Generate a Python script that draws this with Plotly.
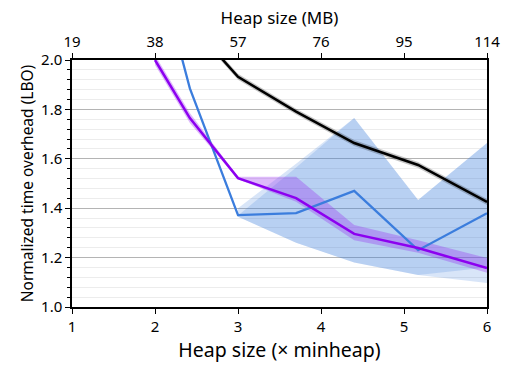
import plotly.graph_objects as go

# ---- data ----
heap_x = [2, 2.42, 3, 3.7, 4.4, 5.17, 6]

purple_mid = [2.0, 1.765, 1.522, 1.441, 1.296, 1.239, 1.158]
purple_hi = [2.02, 1.785, 1.527, 1.527, 1.332, 1.27, 1.198]
purple_lo = [1.98, 1.745, 1.517, 1.426, 1.27, 1.22, 1.139]

blue_mid = [2.42, 1.885, 1.372, 1.38, 1.47, 1.23, 1.38]

black_mid = [2.5, 2.15, 1.932, 1.791, 1.664, 1.575, 1.425]
black_hi = [2.51, 2.162, 1.944, 1.803, 1.676, 1.587, 1.437]
black_lo = [2.49, 2.138, 1.92, 1.779, 1.652, 1.563, 1.413]

band_x = [3, 3.7, 4.4, 5.17, 6]
blue_outer_hi = [1.40, 1.58, 1.765, 1.433, 1.664]
blue_outer_lo = [1.365, 1.26, 1.18, 1.13, 1.097]
blue_inner_hi = [1.37, 1.565, 1.765, 1.433, 1.664]
blue_inner_lo = [1.365, 1.26, 1.18, 1.13, 1.16]

x_ticks = [1, 2, 3, 4, 5, 6]
mb_ticks = [19, 38, 57, 76, 95, 114]
y_ticks = [1.0, 1.2, 1.4, 1.6, 1.8, 2.0]

FONT = "Noto Sans"
BLUE = "rgb(59,125,221)"
PURPLE = "rgb(140,0,240)"


def band(x, lo, hi, color):
    return go.Scatter(
        x=list(x) + list(x)[::-1],
        y=list(hi) + list(lo)[::-1],
        fill="toself", fillcolor=color, mode="lines",
        line=dict(width=0), hoverinfo="skip", showlegend=False,
    )


fig = go.Figure()
fig.add_trace(band(band_x, blue_outer_lo, blue_outer_hi, "rgba(59,125,221,0.2)"))
fig.add_trace(band(band_x, blue_inner_lo, blue_inner_hi, "rgba(59,125,221,0.2)"))
fig.add_trace(band(heap_x, purple_lo, purple_hi, "rgba(150,40,240,0.32)"))
fig.add_trace(band(heap_x, black_lo, black_hi, "rgba(0,0,0,0.22)"))

fig.add_trace(go.Scatter(x=heap_x, y=blue_mid, mode="lines",
                         line=dict(color=BLUE, width=2.3), showlegend=False))
fig.add_trace(go.Scatter(x=heap_x, y=black_mid, mode="lines",
                         line=dict(color="black", width=2.5), showlegend=False))
fig.add_trace(go.Scatter(x=heap_x, y=purple_mid, mode="lines",
                         line=dict(color=PURPLE, width=2.5), showlegend=False))

# invisible trace for the top axis
fig.add_trace(go.Scatter(x=mb_ticks, y=[1.0] * len(mb_ticks), xaxis="x2",
                         mode="markers", marker=dict(opacity=0),
                         hoverinfo="skip", showlegend=False))

fig.update_layout(
    width=505, height=365,
    margin=dict(l=72, r=18, t=60, b=58, autoexpand=False),
    paper_bgcolor="white", plot_bgcolor="white",
    font=dict(family=FONT, size=15, color="black"),
    xaxis=dict(
        range=[1, 6], tickvals=x_ticks, showgrid=False, zeroline=False,
        automargin=False,
        showline=True, linecolor="black", linewidth=1.5,
        ticks="outside", ticklen=5, tickcolor="black",
        title=dict(text="Heap size (× minheap)", font=dict(size=19.5), standoff=6),
    ),
    xaxis2=dict(
        range=[19, 114], tickvals=mb_ticks, overlaying="x", side="top",
        showgrid=False, zeroline=False, automargin=False,
        showline=True, linecolor="black", linewidth=2,
        ticks="outside", ticklen=5, tickcolor="black",
        title=dict(text="Heap size (MB)", font=dict(size=17), standoff=2),
    ),
    yaxis=dict(
        range=[1.0, 2.0], tickvals=y_ticks, tickformat=".1f",
        automargin=False,
        showgrid=True, gridcolor="#b4b4b4", gridwidth=1, zeroline=False,
        showline=True, linecolor="black", linewidth=1.5, mirror=True,
        ticks="outside", ticklen=5, tickcolor="black",
        minor=dict(dtick=0.04, showgrid=True, gridcolor="#ececec",
                   ticks="outside", ticklen=3, tickcolor="black"),
        title=dict(text="Normalized time overhead (LBO)", font=dict(size=15.5), standoff=4),
    ),
)

fig.write_html("out.html",
               config={"displayModeBar": False},
               post_script="document.body.style.margin='0';document.body.style.overflow='hidden';")
